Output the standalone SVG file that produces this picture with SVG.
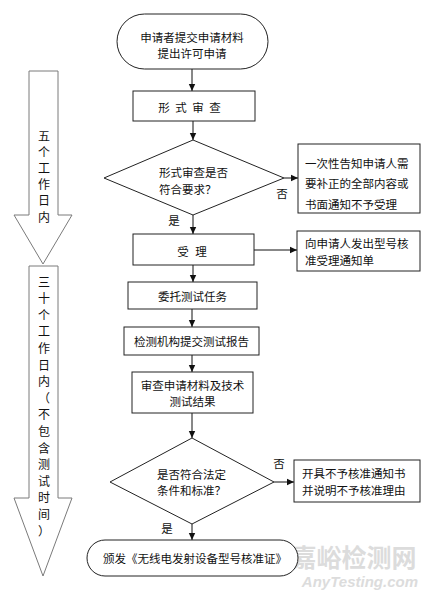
<svg xmlns="http://www.w3.org/2000/svg" width="428" height="595" viewBox="0 0 428 595">
<style>
.t{font-family:"Noto Sans CJK SC","Noto Sans CJK TC",sans-serif;font-size:11.5px;fill:#111;dominant-baseline:central}
.c{text-anchor:middle}
.v{font-family:"Noto Sans CJK SC",sans-serif;font-size:12px;fill:#111;text-anchor:middle;dominant-baseline:central}
.n{fill:#fff;stroke:#222;stroke-width:1}
.la{fill:#fff;stroke:#7a7a7a;stroke-width:1}
.e{stroke:#111;stroke-width:1;fill:none;marker-end:url(#ah)}
.wm{font-family:"Noto Sans CJK SC",sans-serif;font-weight:bold;fill:#dcdcdc}
</style>
<defs>
<marker id="ah" markerWidth="8" markerHeight="8" refX="7" refY="4" orient="auto" markerUnits="userSpaceOnUse">
<path d="M0,0.8 L7,4 L0,7.2 Z" fill="#111"/>
</marker>
</defs>
<rect width="428" height="595" fill="#fff"/>

<g id="watermark">
<text class="wm" x="354" y="567" font-size="25" text-anchor="middle">嘉峪检测网</text>
<text x="418" y="587" font-family="Liberation Sans, sans-serif" font-weight="bold" font-style="italic" font-size="15" fill="#dcdcdc" text-anchor="end">AnyTesting.com</text>
</g>

<g id="timeline-5days">
<polygon class="la" points="29,71 58,71 58,215 72,215 43,264 14,215 29,215"/>
<text class="v" x="44 44 44 44 44 44" y="135 151 167 183 199 216">五个工作日内</text>
</g>
<g id="timeline-30days">
<polygon class="la" points="29,266 58,266 58,498 72,498 43,576 14,498 29,498"/>
<text class="v" x="44 44 44 44 44 44 44 44 44 44 44 44 44 44 44 44" y="281 297.6 314.2 330.8 347.4 364 380.6 397.2 413.8 430.4 447 463.6 480.2 496.8 513.4 530">三十个工作日内（不包含测试时间）</text>
</g>

<g id="connectors">
<line class="e" x1="192" y1="69" x2="192" y2="91"/>
<line class="e" x1="193" y1="121" x2="193" y2="140"/>
<line class="e" x1="284" y1="178" x2="298" y2="178"/>
<line class="e" x1="193" y1="215" x2="193" y2="234"/>
<line class="e" x1="254" y1="250" x2="297" y2="250"/>
<line class="e" x1="193" y1="265" x2="193" y2="282"/>
<line class="e" x1="192" y1="309" x2="192" y2="327"/>
<line class="e" x1="192" y1="355" x2="192" y2="372"/>
<line class="e" x1="192" y1="413" x2="192" y2="438"/>
<line class="e" x1="274" y1="482" x2="294" y2="482"/>
<line class="e" x1="192" y1="524" x2="192" y2="540"/>
<text class="t c" x="282" y="193">否</text>
<text class="t c" x="174" y="220">是</text>
<text class="t c" x="279" y="463">否</text>
<text class="t c" x="167" y="528">是</text>
</g>

<g id="start">
<rect class="n" x="117" y="14" width="151" height="55" rx="27.5"/>
<text class="t c" x="192" y="37">申请者提交申请材料</text>
<text class="t c" x="192" y="53">提出许可申请</text>
</g>

<g id="formal-review">
<rect class="n" x="133" y="91" width="122" height="30"/>
<text class="t c" x="164 181 198 215" y="107">形式审查</text>
</g>

<g id="decision1">
<polygon class="n" points="193,140 284,178 193,215 104,178"/>
<text class="t" x="159" y="172">形式审查是否</text>
<text class="t" x="159" y="189">符合要求？</text>
</g>

<g id="notify-correction">
<rect class="n" x="298" y="144" width="122" height="69"/>
<text class="t" x="305" y="163">一次性告知申请人需</text>
<text class="t" x="305" y="183">要补正的全部内容或</text>
<text class="t" x="305" y="204">书面通知不予受理</text>
</g>

<g id="accept">
<rect class="n" x="133" y="234" width="121" height="31"/>
<text class="t c" x="183 201" y="251">受理</text>
</g>

<g id="accept-notice">
<rect class="n" x="297" y="231" width="123" height="40"/>
<text class="t" x="305" y="243">向申请人发出型号核</text>
<text class="t" x="305" y="260">准受理通知单</text>
</g>

<g id="entrust-test">
<rect class="n" x="128" y="282" width="129" height="27"/>
<text class="t c" x="192.5" y="296">委托测试任务</text>
</g>

<g id="test-report">
<rect class="n" x="124" y="327" width="135" height="28"/>
<text class="t c" x="191.5" y="341">检测机构提交测试报告</text>
</g>

<g id="review-materials">
<rect class="n" x="132" y="372" width="121" height="41"/>
<text class="t c" x="192.5" y="385">审查申请材料及技术</text>
<text class="t c" x="192.5" y="401">测试结果</text>
</g>

<g id="decision2">
<polygon class="n" points="192,438 274,482 192,524 110,482"/>
<text class="t" x="157" y="474">是否符合法定</text>
<text class="t" x="157" y="490">条件和标准？</text>
</g>

<g id="reject-notice">
<rect class="n" x="294" y="460" width="126" height="42"/>
<text class="t" x="302" y="473">开具不予核准通知书</text>
<text class="t" x="302" y="490">并说明不予核准理由</text>
</g>

<g id="issue-certificate">
<rect class="n" x="87" y="540" width="211" height="36" rx="18"/>
<text class="t c" x="195" y="558">颁发《无线电发射设备型号核准证》</text>
</g>
</svg>
